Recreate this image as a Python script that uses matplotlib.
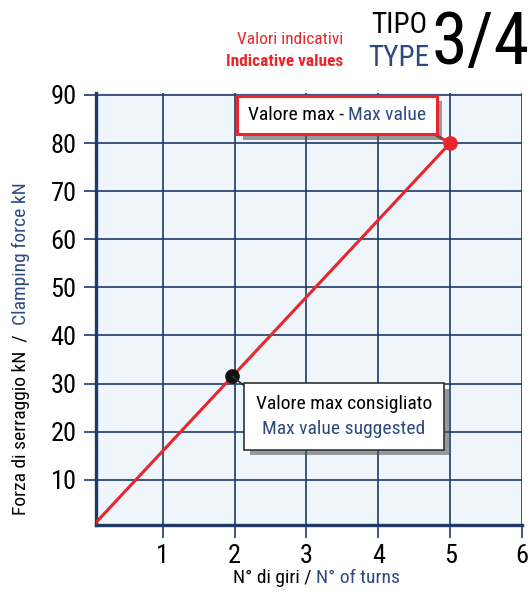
import matplotlib
matplotlib.use("Agg")
import matplotlib.pyplot as plt
import matplotlib.patheffects as pe
from matplotlib.offsetbox import TextArea, HPacker, VPacker, AnnotationBbox

# data
turns = [0, 5]
force = [0, 80]
suggested = (1.97, 31.5)
max_point = (5, 80)
x_ticks = [1, 2, 3, 4, 5, 6]
y_ticks = [10, 20, 30, 40, 50, 60, 70, 80, 90]

NAVY = "#1f3a68"
BLUE = "#2b4a82"
RED = "#e8262d"

plt.rcParams["font.family"] = ["Roboto Condensed", "Liberation Sans", "DejaVu Sans"]

W, H = 529, 603


def main():
    fig = plt.figure(figsize=(W / 100, H / 100), dpi=100)
    ax = fig.add_axes([96 / W, 1 - 525 / H, 426 / W, 432.5 / H])
    ax.set_facecolor("#eef6fb")

    ax.set_xlim(0.07, 6.0)
    ax.set_ylim(0.6, 90.5)
    ax.set_xticks(x_ticks)
    ax.set_yticks(y_ticks)
    ax.tick_params(axis="both", length=9, width=1.2, color=NAVY, labelsize=19, pad=5)
    ax.grid(True, color=NAVY, linewidth=1.2)
    ax.set_axisbelow(True)
    for side in ["top", "right"]:
        ax.spines[side].set_visible(False)
    for side in ["left", "bottom"]:
        ax.spines[side].set_color(NAVY)
        ax.spines[side].set_linewidth(2.4)

    ax.plot(turns, force, color=RED, linewidth=2.2, zorder=3)
    ax.plot(*suggested, "o", color="#111111", markersize=9.5, zorder=4)
    ax.plot(*max_point, "o", color=RED, markersize=9.5, zorder=4, clip_on=False)

    shadow = [pe.withSimplePatchShadow(offset=(4, -4), alpha=0.55)]

    # callout "Valore max - Max value"
    tprops = dict(fontsize=14)
    row = HPacker(children=[TextArea("Valore max - ", textprops=dict(color="black", **tprops)),
                            TextArea("Max value", textprops=dict(color=BLUE, **tprops))],
                  align="baseline", pad=0, sep=0)
    ab1 = AnnotationBbox(row, max_point, xybox=((337 - 96) / 426, (525 - 115) / 432.5),
                         xycoords="data", boxcoords="axes fraction", pad=0,
                         bboxprops=dict(boxstyle="square,pad=0.75", fc="white", ec=RED, lw=2.2),
                         arrowprops=dict(arrowstyle="-", color=RED, lw=2.2, relpos=(0.94, 0),
                                         shrinkA=0, shrinkB=0),
                         zorder=6)
    ax.add_artist(ab1)
    ab1.patch.set_path_effects(shadow)

    # callout "Valore max consigliato / Max value suggested"
    col = VPacker(children=[TextArea("Valore max consigliato", textprops=dict(color="black", **tprops)),
                            TextArea("Max value suggested", textprops=dict(color=BLUE, **tprops))],
                  align="center", pad=0, sep=5)
    ab2 = AnnotationBbox(col, suggested, xybox=((344 - 96) / 426, (525 - 416.5) / 432.5),
                         xycoords="data", boxcoords="axes fraction", pad=0,
                         bboxprops=dict(boxstyle="square,pad=0.85", fc="white", ec="#333333", lw=1.2),
                         arrowprops=dict(arrowstyle="-", color="#333333", lw=1.2, relpos=(0.0, 1.0),
                                         shrinkA=0, shrinkB=0),
                         zorder=6)
    ax.add_artist(ab2)
    ab2.patch.set_path_effects(shadow)

    # axis labels in two colours
    t = fig.text(233 / W, 1 - 578 / H, "N° di giri / ", fontsize=14, ha="left", va="center")
    fig.add_artist(plt.Annotation("N° of turns", xy=(1, 0), xycoords=t, fontsize=14,
                                  color=BLUE, ha="left", va="bottom"))
    t = fig.text(21 / W, 1 - 515 / H, "Forza di serraggio kN  /  ", fontsize=14,
                 rotation=90, ha="center", va="bottom")
    fig.add_artist(plt.Annotation("Clamping force kN", xy=(0.5, 1), xycoords=t, fontsize=14,
                                  color=BLUE, rotation=90, ha="center", va="bottom"))

    # header
    fig.text(343 / W, 1 - 40 / H, "Valori indicativi", fontsize=12.5, color=RED, ha="right", va="center")
    fig.text(343 / W, 1 - 62 / H, "Indicative values", fontsize=12.5, color=RED,
             fontweight="bold", ha="right", va="center")
    fig.text(399 / W, 1 - 25 / H, "TIPO", fontsize=21, ha="center", va="center")
    fig.text(399 / W, 1 - 58 / H, "TYPE", fontsize=21, color=BLUE, ha="center", va="center")
    fig.text(481 / W, 1 - 44 / H, "3/4", fontsize=52, ha="center", va="center")

    fig.savefig("out.png", dpi=100)


if __name__ == "__main__":
    main()
